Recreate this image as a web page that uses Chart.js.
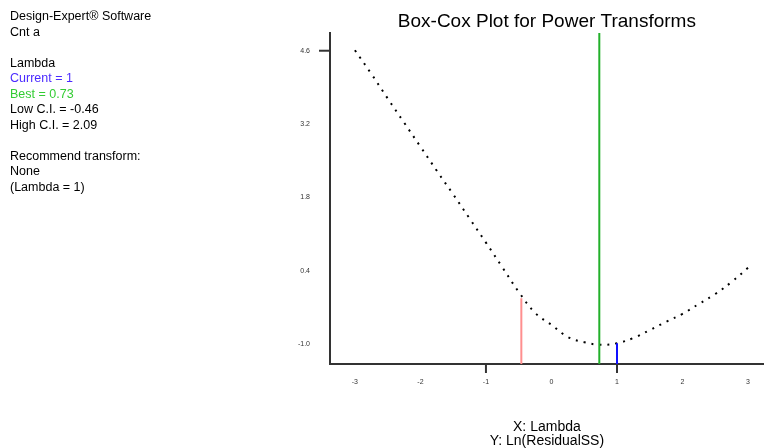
<!DOCTYPE html>
<html>
<head>
<meta charset="utf-8">
<script src="https://cdn.jsdelivr.net/npm/chart.js@4"></script>
<style>
  html, body { margin: 0; padding: 0; background: #fff; }
  #wrap { position: relative; width: 764px; height: 448px; }
  #info { position: absolute; left: 10px; top: 9px; font: 12.5px Arial, "Liberation Sans", sans-serif; line-height: 15.5px; color: #000; }
  #info .gap { height: 15.5px; }
</style>
</head>
<body>
<div id="wrap">
  <canvas id="boxcox" width="764" height="448"></canvas>
  <div id="info">
    <div>Design-Expert® Software</div>
    <div>Cnt a</div>
    <div class="gap"></div>
    <div>Lambda</div>
    <div style="color:#4b2bff">Current = 1</div>
    <div style="color:#33cc33">Best = 0.73</div>
    <div>Low C.I. = -0.46</div>
    <div>High C.I. = 2.09</div>
    <div class="gap"></div>
    <div>Recommend transform:</div>
    <div>None</div>
    <div>(Lambda = 1)</div>
  </div>
</div>
<script>
// Box-Cox curve: lambda vs Ln(ResidualSS)
const lambdas = [-3, -2.75, -2.5, -2.25, -2, -1.75, -1.5, -1.25, -1, -0.75, -0.5, -0.25, 0,
  0.25, 0.5, 0.75, 1, 1.25, 1.5, 1.75, 2, 2.25, 2.5, 2.75, 3];
const lnResidualSS = [4.61, 4.16, 3.69, 3.23, 2.77, 2.31, 1.86, 1.40, 0.94, 0.47, 0.00, -0.40, -0.63,
  -0.86, -0.96, -1.01, -0.98, -0.88, -0.73, -0.57, -0.42, -0.23, -0.04, 0.19, 0.46];

const xTicks = [-3, -2, -1, 0, 1, 2, 3];
const yTicks = [-1.0, 0.4, 1.8, 3.2, 4.6];
const xRange = [-3.38, 3.24];
const yRange = [-1.376, 4.94];

const bestLambda = 0.73;
const lowCI = -0.46;
const lowCITop = -0.12;
const currentLambda = 1;
const currentTop = -0.98;

// the few short tick marks the original draws
const xTickMarks = [-1, 1];
const yTickMarks = [4.6];

const tickMarks = {
  id: 'tickMarks',
  afterDraw(chart) {
    const { ctx, scales: { x, y } } = chart;
    ctx.save();
    ctx.strokeStyle = '#333';
    ctx.lineWidth = 2;
    xTickMarks.forEach((v) => {
      const px = x.getPixelForValue(v);
      ctx.beginPath();
      ctx.moveTo(px, y.bottom);
      ctx.lineTo(px, y.bottom + 9);
      ctx.stroke();
    });
    yTickMarks.forEach((v) => {
      const py = y.getPixelForValue(v);
      ctx.beginPath();
      ctx.moveTo(x.left, py);
      ctx.lineTo(x.left - 11, py);
      ctx.stroke();
    });
    ctx.restore();
  }
};

const ctx = document.getElementById('boxcox').getContext('2d');
new Chart(ctx, {
  type: 'line',
  data: {
    datasets: [
      {
        label: 'Best',
        data: [{ x: bestLambda, y: yRange[0] }, { x: bestLambda, y: yRange[1] }],
        borderColor: '#22b02a',
        borderWidth: 2,
        pointRadius: 0,
      },
      {
        label: 'Low C.I.',
        data: [{ x: lowCI, y: yRange[0] }, { x: lowCI, y: lowCITop }],
        borderColor: '#ff8f8f',
        borderWidth: 2,
        pointRadius: 0,
      },
      {
        label: 'Current',
        data: [{ x: currentLambda, y: yRange[0] }, { x: currentLambda, y: currentTop }],
        borderColor: '#1010ff',
        borderWidth: 2,
        pointRadius: 0,
      },
      {
        label: 'Ln(ResidualSS)',
        data: lambdas.map((l, i) => ({ x: l, y: lnResidualSS[i] })),
        borderColor: '#000',
        borderWidth: 2,
        borderDash: [2, 6],
        tension: 0.4,
        pointRadius: 0,
      },
    ],
  },
  options: {
    responsive: false,
    animation: false,
    layout: { padding: { left: 0, right: 0, top: 0, bottom: 0 } },
    plugins: {
      legend: { display: false },
      tooltip: { enabled: false },
      title: {
        display: true,
        text: 'Box-Cox Plot for Power Transforms',
        fullSize: false,
        color: '#000',
        font: { family: 'Arial, "Liberation Sans", sans-serif', size: 19, weight: 'normal', lineHeight: 1.1 },
        padding: { top: 11, bottom: 1 },
      },
    },
    scales: {
      x: {
        type: 'linear',
        min: xRange[0],
        max: xRange[1],
        afterBuildTicks: (s) => { s.ticks = xTicks.map((v) => ({ value: v })); },
        afterFit: (s) => { s.height = 84; },
        grid: { display: false, drawTicks: false },
        border: { display: true, color: '#333', width: 2 },
        ticks: {
          padding: 14,
          color: '#333',
          font: { family: 'Arial, sans-serif', size: 7 },
          callback: (v) => String(v),
        },
        title: {
          display: true,
          text: ['X: Lambda', 'Y: Ln(ResidualSS)'],
          color: '#000',
          font: { family: 'Arial, "Liberation Sans", sans-serif', size: 14, lineHeight: 1 },
          padding: { top: 0, bottom: 0 },
        },
      },
      y: {
        type: 'linear',
        min: yRange[0],
        max: yRange[1],
        afterBuildTicks: (s) => { s.ticks = yTicks.map((v) => ({ value: v })); },
        afterFit: (s) => { s.width = 330; },
        grid: { display: false, drawTicks: false },
        border: { display: true, color: '#333', width: 2 },
        ticks: {
          padding: 20,
          color: '#333',
          font: { family: 'Arial, sans-serif', size: 7 },
          callback: (v) => v.toFixed(1),
        },
      },
    },
  },
  plugins: [tickMarks],
});
</script>
</body>
</html>
